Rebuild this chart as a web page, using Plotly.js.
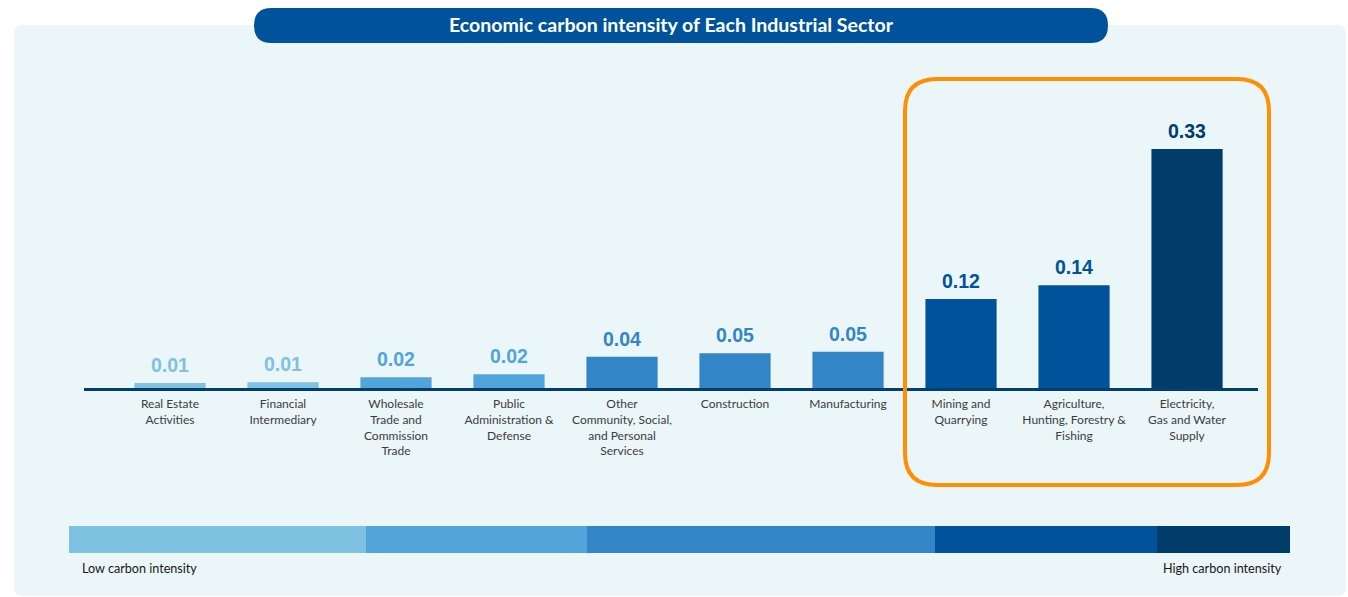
<!DOCTYPE html>
<html>
<head>
<meta charset="utf-8">
<script src="https://cdn.plot.ly/plotly-3.0.1.min.js"></script>
<style>html,body{margin:0;padding:0;background:#fff;}#chart{width:1348px;height:597px;}</style>
</head>
<body>
<div id="chart"></div>
<script>
// ---- data ----
const sectors = ["Real Estate Activities","Financial Intermediary","Wholesale Trade and Commission Trade","Public Administration & Defense","Other Community, Social, and Personal Services","Construction","Manufacturing","Mining and Quarrying","Agriculture, Hunting, Forestry & Fishing","Electricity, Gas and Water Supply"];
const tickLabels = ["Real Estate<br>Activities","Financial<br>Intermediary","Wholesale<br>Trade and<br>Commission<br>Trade","Public<br>Administration &<br>Defense","Other<br>Community, Social,<br>and Personal<br>Services","Construction","Manufacturing","Mining and<br>Quarrying","Agriculture,<br>Hunting, Forestry &<br>Fishing","Electricity,<br>Gas and Water<br>Supply"];
const intensity = [0.007,0.008,0.015,0.019,0.043,0.048,0.050,0.123,0.142,0.33];
const valueLabels = ["0.01","0.01","0.02","0.02","0.04","0.05","0.05","0.12","0.14","0.33"];
const barColors = ["#7FC1E1","#7FC1E1","#52A5DA","#52A5DA","#3286C7","#3286C7","#3286C7","#00529B","#00529B","#003D6B"];
const scaleColors = ["#7FC1E1","#52A5DA","#3286C7","#00529B","#003D6B"];
const scaleEdges = [69,366,587,935,1157,1290];

// ---- layout geometry ----
const W=1348,H=597,L=84,R=90,T=60,B=209;
const PW=W-L-R, PH=H-T-B;
const px=x=>(x-L)/PW, py=y=>(H-B-y)/PH;
function rr(x0,y0,x1,y1,r){
  const P=(x,y)=>px(x)+','+py(y);
  return 'M'+P(x0+r,y0)+' L'+P(x1-r,y0)+' Q'+P(x1,y0)+' '+P(x1,y0+r)+
    ' L'+P(x1,y1-r)+' Q'+P(x1,y1)+' '+P(x1-r,y1)+
    ' L'+P(x0+r,y1)+' Q'+P(x0,y1)+' '+P(x0,y1-r)+
    ' L'+P(x0,y0+r)+' Q'+P(x0,y0)+' '+P(x0+r,y0)+' Z';
}
const shapes=[];
shapes.push({type:'path',xref:'paper',yref:'paper',path:rr(14,25,1346,596,9),fillcolor:'#EBF6F8',line:{width:0},layer:'below'});
shapes.push({type:'path',xref:'paper',yref:'paper',path:rr(254,8,1108,43,17.5),fillcolor:'#00539B',line:{width:0},layer:'below'});
shapes.push({type:'path',xref:'paper',yref:'paper',path:rr(905,79,1269,485,32),fillcolor:'rgba(0,0,0,0)',line:{color:'#FF8F00',width:4},layer:'above'});
for(let i=0;i<scaleColors.length;i++){
  shapes.push({type:'rect',xref:'paper',yref:'paper',x0:px(scaleEdges[i]),x1:px(scaleEdges[i+1]),y0:py(553),y1:py(526),fillcolor:scaleColors[i],line:{width:0},layer:'above'});
}

const trace={
  type:'bar',x:sectors,y:intensity,width:0.63,
  marker:{color:barColors,line:{width:0}},
  hoverinfo:'skip'
};

const labelFont='Lato, "Open Sans", sans-serif';
const annotations=sectors.map((s,i)=>({
  x:s,y:intensity[i],xref:'x',yref:'y',text:valueLabels[i],showarrow:false,
  xanchor:'center',yanchor:'bottom',yshift:5,
  font:{family:'"Liberation Sans", Arial, sans-serif',size:19.5,color:barColors[i],weight:700}
}));
annotations.push(
  {text:'Low carbon intensity',xref:'paper',yref:'paper',x:px(80),y:py(568),xanchor:'left',yanchor:'middle',showarrow:false,font:{family:labelFont,size:12.6,color:'#161616'}},
  {text:'High carbon intensity',xref:'paper',yref:'paper',x:px(1284),y:py(568),xanchor:'right',yanchor:'middle',showarrow:false,font:{family:labelFont,size:12.6,color:'#161616'}}
);

const layout={
  width:W,height:H,
  margin:{l:L,r:R,t:T,b:B},
  paper_bgcolor:'#ffffff',plot_bgcolor:'rgba(0,0,0,0)',
  showlegend:false,
  title:{text:'Economic carbon intensity of Each Industrial Sector',xref:'container',yref:'container',x:671/W,xanchor:'center',y:1-25/H,yanchor:'middle',font:{family:labelFont,size:19.5,color:'#ffffff',weight:700}},
  xaxis:{type:'category',categoryorder:'array',categoryarray:sectors,range:[-0.761,9.628],
    tickvals:sectors,ticktext:tickLabels,ticks:'',showgrid:false,zeroline:false,
    showline:true,linecolor:'#003F6E',linewidth:3,
    tickfont:{family:labelFont,size:12,color:'#3C3C3C'},ticklabelstandoff:3,fixedrange:true},
  yaxis:{range:[0,PH/(239/0.33)],visible:false,showgrid:false,zeroline:false,fixedrange:true},
  shapes:shapes,
  annotations:annotations
};
Plotly.newPlot('chart',[trace],layout,{displayModeBar:false,staticPlot:true});
</script>
</body>
</html>
